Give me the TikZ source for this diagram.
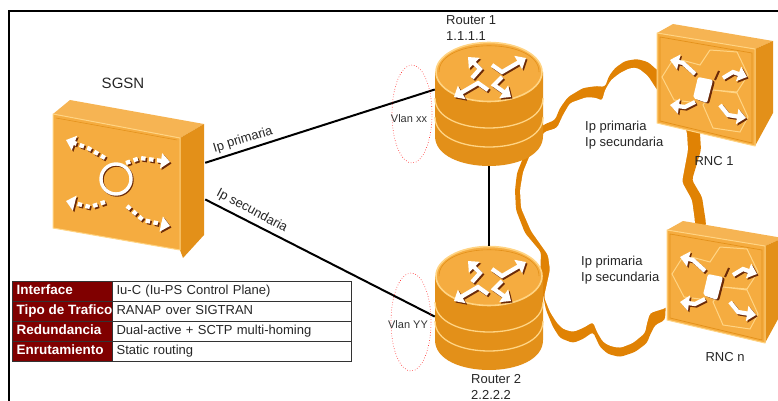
\documentclass[tikz,border=0pt]{standalone}
\usepackage{fontspec}
\setmainfont{Liberation Sans}
\usetikzlibrary{arrows.meta}
\definecolor{facecol}{HTML}{F5AC40}
\definecolor{sidecol}{HTML}{E39019}
\definecolor{edgecol}{HTML}{FFD484}
\definecolor{cloudcol}{HTML}{E08204}
\definecolor{shadecol}{HTML}{6B2A08}
\definecolor{headcol}{HTML}{800000}
\newcommand{\iconarrow}[1]{%
	\draw[iconshade,shift={(1.5,1.5)}] #1;
	\draw[iconwhite] #1;
}
\tikzset{
	label13/.style={inner sep=0pt,align=left,text=black!85,font=\fontsize{13}{16}\selectfont},
	label11/.style={inner sep=0pt,text=black!80,font=\fontsize{11}{13}\selectfont},
	iconwhite/.style={white,line width=4.2pt,-{Triangle[length=9pt,width=15pt]}},
	iconshade/.style={shadecol,line width=4.2pt,-{Triangle[length=9pt,width=15pt]}},
	iconbox/.style={inner sep=0pt,minimum width=#1},
	vlanring/.style={red!90!white,dotted,line width=0.6pt},
	link/.style={black,line width=2pt},
	headcell/.style={draw=black!80,fill=headcol,text=white,inner xsep=4.5pt,inner ysep=0pt,minimum height=20pt,minimum width=100pt,text height=10pt,text depth=3pt,anchor=west,font=\fontsize{13.5}{16}\selectfont\bfseries},
	bodycell/.style={draw=black!80,fill=white,text=black!85,inner xsep=4pt,inner ysep=0pt,minimum height=20pt,text width=231pt,text height=10pt,text depth=3pt,anchor=west,font=\fontsize{13}{16}\selectfont},
	router/.pic={
		\fill[sidecol] (-54,0) -- (-54,64) .. controls (-54,104) and (54,104) .. (54,64) -- (54,0) -- cycle;
		\draw[edgecol,line width=1.3pt] (-54,26) .. controls (-54,66) and (54,66) .. (54,26);
		\draw[edgecol,line width=1.3pt] (-54,45) .. controls (-54,85) and (54,85) .. (54,45);
		\draw[edgecol,fill=facecol,line width=1.6pt] (0,0) ellipse [x radius=53,y radius=29.5];
		\draw[sidecol,line width=0.6pt] (-50,0) .. controls (-50,-35) and (50,-35) .. (50,0);
		\iconarrow{(-17,6) -- (-9,-3) -- (-21,-15)}
		\iconarrow{(3,-7) -- (13,0) -- (37,-14)}
		\iconarrow{(-1,18) -- (-11,11) -- (-35,25)}
		\iconarrow{(13,5) -- (5,13) -- (22,25)}
	},
	rncbox/.pic={
		\fill[facecol!90!white] (0,0) -- (16,-9) -- (116,8) -- (98,16) -- cycle;
		\fill[sidecol] (98,16) -- (116,8) -- (116,80) -- (98,113) -- cycle;
		\draw[edgecol,fill=facecol,line width=1pt,line join=round] (0,0) -- (98,16) -- (98,113) -- (0,90) -- cycle;
		\draw[sidecol,line width=0.7pt] (3,4) -- (95,20) -- (95,110) -- (3,88) -- cycle;
		\draw[edgecol,line width=1pt] (53,17) -- (80,19) -- (91,42) -- (80,59) -- (56,57) -- (46,72) -- (56,95) -- (83,99) -- (91,84) -- (80,60) -- (56,57);
		\draw[edgecol,line width=1pt] (53,17) -- (43,32) -- (17,25) -- (5,44) -- (17,67) -- (33,69);
		\iconarrow{(38,41) -- (26,30) -- (13,27)}
		\iconarrow{(66,45) -- (76,39) -- (90,44)}
		\iconarrow{(38,69) -- (28,74) -- (13,72)}
		\iconarrow{(63,72) -- (71,82) -- (89,85)}
		\draw[shadecol,line width=2pt] (58,47) -- (62,38);
		\fill[shadecol,rounded corners=2pt] (43,45) -- (58,48) -- (52,71) -- (38,66) -- cycle;
		\fill[white,rounded corners=2pt] (41,44) -- (56,47) -- (50,70) -- (36,65) -- cycle;
	}
}
\begin{document}
\begin{tikzpicture}[x=1pt,y=-1pt]
	\useasboundingbox (0,0) rectangle (778,401);
	\draw[black,line width=2pt] (9,401) -- (9,11) -- (778,11);

	\fill[cloudcol,rounded corners=3pt] (543,125) -- (555,120) -- (560,108) -- (568,97) -- (583,88) -- (597,86) -- (605,87) -- (609,76) -- (615,68) -- (625,61) -- (637,59) -- (648,62) -- (657,70) -- (700,100) -- (700,133) -- (701,150) -- (692,180) -- (702,197) -- (706,223) -- (700,280) -- (666,302) -- (665,320) -- (655,325) -- (650,335) -- (647,343) -- (635,352) -- (620,357) -- (608,354) -- (600,347) -- (593,332) -- (583,339) -- (573,343) -- (560,338) -- (553,327) -- (546,310) -- (540,280) -- (541,252) -- (525,233) -- (516,210) -- (515,190) -- (517,173) -- (523,158) -- (535,135) -- cycle;
	\fill[white,rounded corners=3pt] (544,132) -- (557,128) -- (563,115) -- (570,103) -- (587,97) -- (597,98) -- (602,101) -- (605,90) -- (611,80) -- (620,73) -- (630,68) -- (638,68) -- (648,76) -- (657,90) -- (680,110) -- (687,133) -- (688,150) -- (682,182) -- (692,200) -- (695,222) -- (690,280) -- (666,308) -- (650,313) -- (647,323) -- (645,333) -- (633,343) -- (620,348) -- (610,346) -- (603,342) -- (597,332) -- (593,322) -- (583,328) -- (573,332) -- (563,329) -- (557,323) -- (550,312) -- (544,297) -- (550,270) -- (548,255) -- (531,231) -- (521,208) -- (520,190) -- (523,172) -- (530,155) -- (540,140) -- cycle;

	\fill[facecol!90!white] (53,114) -- (70,100) -- (204,124) -- (180,138) -- cycle;
	\fill[sidecol] (180,138) -- (204,124) -- (204,235) -- (183,258) -- (180,250) -- cycle;
	\draw[edgecol,fill=facecol,line width=1pt,line join=round] (53,114) -- (180,138) -- (180,250) -- (53,228) -- cycle;
	\draw[sidecol,line width=0.5pt] (56,118) -- (177,140);
	\draw[shadecol,line width=3.4pt] (117,180) circle (15);
	\draw[white,line width=3.4pt] (116,179) circle (15);
	\begin{scope}[dash pattern=on 4.5pt off 3.5pt]
		\iconarrow{(105,158) -- (88,148) -- (66,140)}
		\iconarrow{(126,163) -- (140,158) -- (170,162)}
		\iconarrow{(105,202) -- (90,207) -- (66,201)}
		\iconarrow{(127,206) -- (143,220) -- (170,226)}
	\end{scope}

	\pic at (489,72) {router};
	\pic at (489,276) {router};
	\pic at (657,33) {rncbox};
	\pic at (667,230) {rncbox};

	\node[iconbox=152pt,minimum height=158pt] (sgsn) at (129,179) {};
	\node[iconbox=108pt,minimum height=124pt] (router1) at (489,104) {};
	\node[iconbox=108pt,minimum height=124pt] (router2) at (489,308) {};

	\draw[link] (sgsn.12) -- (router1.165.5);
	\draw[link] (sgsn.-15) -- (router2.189.5);
	\draw[link] (router1.south) -- (router2.north);

	\draw[vlanring] (412,114) ellipse [x radius=20,y radius=49];
	\draw[vlanring] (411,322) ellipse [x radius=20,y radius=49];

	\node[label13,font=\fontsize{15}{18}\selectfont] (sgsnlabel) at (123,83) {SGSN};
	\node[label13,anchor=west] (router1label) at (446,28) {Router 1\\1.1.1.1};
	\node[label13,anchor=west] (router2label) at (471,387) {Router 2\\2.2.2.2};
	\node[label11] (vlanxx) at (409,119) {Vlan xx};
	\node[label11] (vlanyy) at (408,325) {Vlan YY};
	\node[label13,rotate=17] (ipprim) at (243,140) {Ip primaria};
	\node[label13,rotate=-28] (ipsec) at (252,211) {Ip secundaria};
	\node[label13,anchor=west] (cloudup) at (585,135) {Ip primaria\\Ip secundaria};
	\node[label13,anchor=west] (clouddown) at (581,270) {Ip primaria\\Ip secundaria};
	\node[label13] (rnc1label) at (714,161) {RNC 1};
	\node[label13] (rncnlabel) at (725,357) {RNC n};

	\foreach \i/\head/\body in {0/Interface/{Iu-C (Iu-PS Control Plane)},1/Tipo de Trafico/RANAP over SIGTRAN,2/Redundancia/{Dual-active + SCTP multi-homing},3/Enrutamiento/Static routing} {
		\node[headcell] (head\i) at (12,291+20*\i) {\makebox[91pt][l]{\head}};
		\node[bodycell] (body\i) at (head\i.east) {\body};
	}
\end{tikzpicture}
\end{document}
